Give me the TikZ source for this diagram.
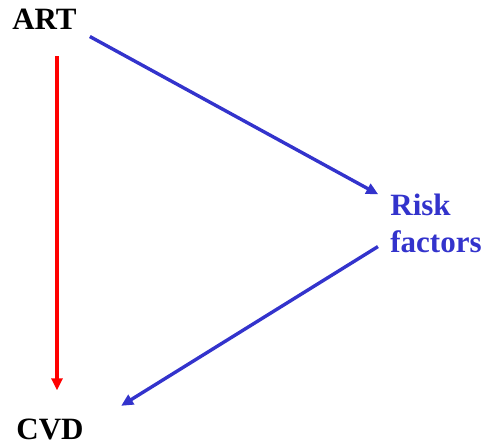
\documentclass[tikz,border=0pt]{standalone}
\usepackage{fontspec}
\setmainfont{Liberation Serif}
\usetikzlibrary{arrows.meta}
\definecolor{riskblue}{RGB}{51,51,204}
\begin{document}
\begin{tikzpicture}[x=1pt, y=-1pt,
    factor/.style ={inner sep=0pt, font=\bfseries\fontsize{31}{37}\selectfont},
    effect/.style ={line width=3.4pt, -{Triangle[length=12pt,width=11pt]}}]
   \useasboundingbox (0,0) rectangle (487,446);
   \node[factor] (ART)  at (44.5,19)  {ART};
   \node[factor] (CVD)  at (50,429)  {CVD};
   \node[factor, text=riskblue, align=left] (Risk)  at (436,223)  {Risk\\factors};
   \draw[effect, red, shorten <=27pt, shorten >=28pt] ([xshift=12.5pt]ART.south) to ([xshift=7pt]CVD.north);
   \draw[effect, riskblue, shorten <=14.8pt, shorten >=13.6pt] (ART.south east) to ([yshift=-7.5pt]Risk.north west);
   \draw[effect, riskblue, shorten <=14.4pt, shorten >=44pt] ([yshift=-16pt]Risk.west) to (CVD.east);
 \end{tikzpicture}
\end{document}
